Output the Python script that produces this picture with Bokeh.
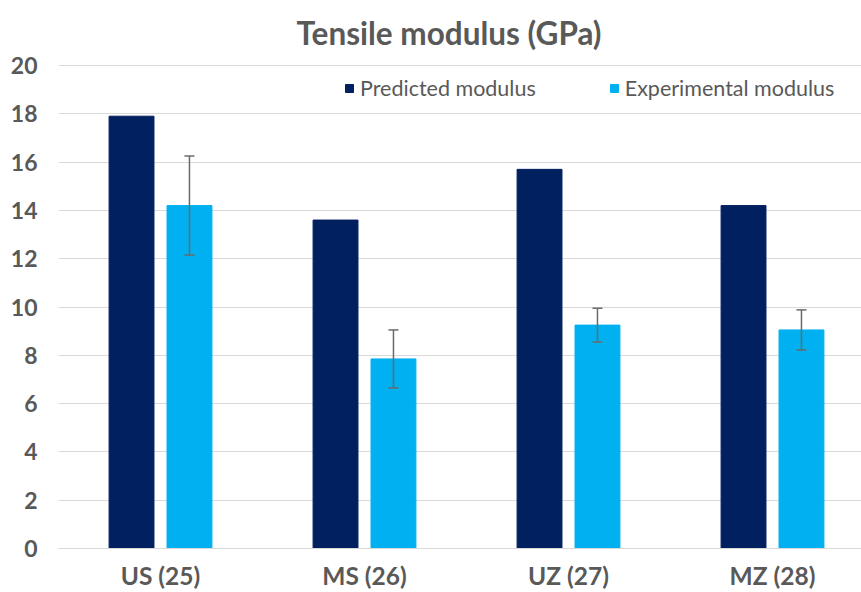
from bokeh.plotting import figure
from bokeh.models import (ColumnDataSource, Range1d, FixedTicker, Whisker, TeeHead,
                          Legend, LegendItem, Label)
from bokeh.embed import file_html
from bokeh.resources import INLINE

categories = ["US (25)", "MS (26)", "UZ (27)", "MZ (28)"]
predicted = [17.9, 13.6, 15.7, 14.2]
experimental = [14.2, 7.85, 9.25, 9.05]
exp_error = [2.05, 1.2, 0.7, 0.83]
series_names = ["Predicted modulus", "Experimental modulus"]
y_ticks = [0, 2, 4, 6, 8, 10, 12, 14, 16, 18, 20]
title_text = "Tensile modulus (GPa)"

NAVY = "#002060"
LIGHT = "#00B0F0"
GREY = "#595959"
FONT = "Lato"

idx = list(range(len(categories)))
off = 0.142
bw = 0.22

src_p = ColumnDataSource(dict(x=[i - off for i in idx], top=predicted))
src_e = ColumnDataSource(dict(
    x=[i + off for i in idx], top=experimental,
    upper=[v + e for v, e in zip(experimental, exp_error)],
    lower=[v - e for v, e in zip(experimental, exp_error)],
))

# frame spans the full height above the axis; the 0..20 scale occupies 483 px of 548
y_top = 20.0 * 548.0 / 483.0

p = figure(width=861, height=592, output_backend="svg", toolbar_location=None,
           x_range=Range1d(-0.5, -0.5 + 803.0 / 204.0), y_range=Range1d(0, y_top),
           min_border_left=58, min_border_right=0, min_border_top=0,
           min_border_bottom=44)

p.outline_line_color = None
p.background_fill_color = "white"
p.border_fill_color = "white"

r1 = p.vbar(x="x", top="top", width=bw, source=src_p, fill_color=NAVY, line_color=NAVY)
r2 = p.vbar(x="x", top="top", width=bw, source=src_e, fill_color=LIGHT, line_color=LIGHT)

wk = Whisker(base="x", upper="upper", lower="lower", source=src_e,
             line_color="#6a6a6a", line_width=1.5, level="overlay",
             upper_head=TeeHead(size=10, line_color="#6a6a6a", line_width=1.5),
             lower_head=TeeHead(size=10, line_color="#6a6a6a", line_width=1.5))
p.add_layout(wk)

title = Label(x=390.5, y=516, x_units="screen", y_units="screen", text=title_text,
              text_align="center", text_baseline="alphabetic",
              text_font=FONT, text_font_size="31.5px", text_font_style="bold",
              text_color=GREY)
p.add_layout(title)

# axes
p.xaxis.ticker = FixedTicker(ticks=idx)
p.xaxis.major_label_overrides = {i: c for i, c in zip(idx, categories)}
p.xaxis.major_tick_line_color = None
p.xaxis.minor_tick_line_color = None
p.xaxis.axis_line_color = "#d9d9d9"
p.xaxis.major_label_text_font = FONT
p.xaxis.major_label_text_font_size = "24.5px"
p.xaxis.major_label_text_font_style = "bold"
p.xaxis.major_label_text_color = GREY
p.xaxis.major_label_standoff = 6

p.yaxis.ticker = FixedTicker(ticks=y_ticks)
p.yaxis.major_tick_line_color = None
p.yaxis.minor_tick_line_color = None
p.yaxis.axis_line_color = None
p.yaxis.major_label_text_font = FONT
p.yaxis.major_label_text_font_size = "23px"
p.yaxis.major_label_text_font_style = "bold"
p.yaxis.major_label_text_color = GREY
p.yaxis.major_label_standoff = 15

p.xgrid.grid_line_color = None
p.ygrid.grid_line_color = "#d9d9d9"
p.ygrid.grid_line_width = 1

legend = Legend(items=[LegendItem(label=series_names[0], renderers=[r1]),
                       LegendItem(label=series_names[1], renderers=[r2])],
                orientation="horizontal", location=(286, 447),
                glyph_width=10, glyph_height=10, label_standoff=6, spacing=73,
                padding=0, margin=0, border_line_color=None,
                background_fill_alpha=0,
                label_text_font=FONT, label_text_font_size="21.5px",
                label_text_color=GREY)
p.add_layout(legend)

open("out.html", "w").write(file_html(p, INLINE))
